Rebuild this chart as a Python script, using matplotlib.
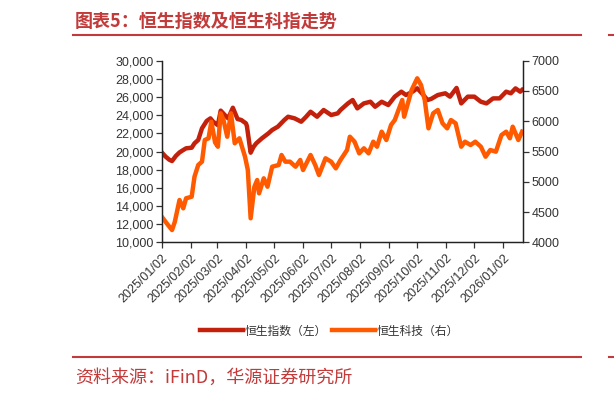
import numpy as np
import pandas as pd
import matplotlib
matplotlib.use('Agg')
import matplotlib.pyplot as plt
import matplotlib.dates as mdates
from matplotlib.lines import Line2D
from matplotlib.ticker import FuncFormatter

plt.rcParams['font.family'] = ['Liberation Sans', 'Noto Sans CJK SC', 'DejaVu Sans']

# 恒生指数 (left axis)
hsi_dates = ['2025-01-02', '2025-01-06', '2025-01-10', '2025-01-13', '2025-01-17', '2025-01-21',
             '2025-01-24', '2025-01-28', '2025-02-03', '2025-02-06', '2025-02-10', '2025-02-14',
             '2025-02-19', '2025-02-23', '2025-02-26', '2025-03-03', '2025-03-06', '2025-03-11',
             '2025-03-14', '2025-03-19', '2025-03-24', '2025-03-28', '2025-04-02', '2025-04-03',
             '2025-04-07', '2025-04-10', '2025-04-13', '2025-04-19', '2025-04-26', '2025-04-30',
             '2025-05-06', '2025-05-13', '2025-05-17', '2025-05-24', '2025-05-31', '2025-06-05',
             '2025-06-10', '2025-06-17', '2025-06-24', '2025-07-02', '2025-07-09', '2025-07-12',
             '2025-07-20', '2025-07-25', '2025-07-30', '2025-08-06', '2025-08-13', '2025-08-18',
             '2025-08-25', '2025-09-01', '2025-09-08', '2025-09-15', '2025-09-20', '2025-09-27',
             '2025-10-02', '2025-10-07', '2025-10-13', '2025-10-17', '2025-10-24', '2025-11-01',
             '2025-11-06', '2025-11-13', '2025-11-18', '2025-11-25', '2025-12-02', '2025-12-09',
             '2025-12-15', '2025-12-22', '2025-12-29', '2026-01-05', '2026-01-10', '2026-01-15',
             '2026-01-20', '2026-01-22']
hsi_vals = [19900, 19450, 19100, 18950, 19500, 19900,
            20100, 20350, 20420, 20900, 21270, 22550,
            23360, 23650, 23280, 22900, 24500, 23950,
            23650, 24820, 23580, 23470, 23100, 22800,
            19870, 20500, 20900, 21450, 22000, 22370,
            22730, 23470, 23830, 23650, 23280, 23800,
            24380, 23830, 24570, 24020, 24200, 24570,
            25300, 25670, 24750, 25300, 25480, 24930,
            25480, 25120, 26040, 26590, 26220, 26590,
            26960, 26410, 25670, 25800, 26220, 26410,
            26040, 27000, 25300, 26040, 26040, 25480,
            25300, 25850, 25850, 26590, 26410, 26950,
            26590, 26780]

# 恒生科技 (right axis)
hstech_dates = ['2025-01-02', '2025-01-08', '2025-01-13', '2025-01-16', '2025-01-21', '2025-01-25',
                '2025-01-28', '2025-02-03', '2025-02-06', '2025-02-10', '2025-02-14', '2025-02-17',
                '2025-02-21', '2025-02-24', '2025-02-28', '2025-03-03', '2025-03-06', '2025-03-09',
                '2025-03-13', '2025-03-17', '2025-03-21', '2025-03-26', '2025-04-01', '2025-04-04',
                '2025-04-07', '2025-04-11', '2025-04-14', '2025-04-16', '2025-04-21', '2025-04-25',
                '2025-04-30', '2025-05-07', '2025-05-10', '2025-05-14', '2025-05-19', '2025-05-25',
                '2025-05-30', '2025-06-02', '2025-06-10', '2025-06-15', '2025-06-19', '2025-06-26',
                '2025-07-02', '2025-07-07', '2025-07-12', '2025-07-19', '2025-07-22', '2025-07-27',
                '2025-08-01', '2025-08-06', '2025-08-11', '2025-08-16', '2025-08-20', '2025-08-25',
                '2025-08-30', '2025-09-04', '2025-09-08', '2025-09-12', '2025-09-16', '2025-09-18',
                '2025-09-22', '2025-09-26', '2025-10-02', '2025-10-06', '2025-10-10', '2025-10-14',
                '2025-10-19', '2025-10-24', '2025-10-29', '2025-11-03', '2025-11-07', '2025-11-12',
                '2025-11-18', '2025-11-22', '2025-11-28', '2025-12-03', '2025-12-09', '2025-12-14',
                '2025-12-19', '2025-12-25', '2025-12-31', '2026-01-05', '2026-01-09', '2026-01-12',
                '2026-01-18', '2026-01-22']
hstech_vals = [4423, 4300, 4203, 4340, 4699, 4561,
               4727, 4753, 5084, 5277, 5332, 5690,
               5718, 5992, 5650, 5579, 6131, 6020,
               5744, 6131, 5636, 5718, 5414, 5194,
               4397, 4918, 5029, 4809, 5057, 4918,
               5249, 5277, 5442, 5332, 5332, 5249,
               5360, 5194, 5442, 5277, 5112, 5388,
               5332, 5222, 5360, 5525, 5744, 5662,
               5470, 5553, 5470, 5662, 5579, 5827,
               5690, 5938, 6020, 6186, 6351, 6075,
               6296, 6516, 6709, 6600, 6351, 5883,
               6131, 6186, 5966, 5883, 6020, 5966,
               5579, 5662, 5607, 5662, 5579, 5414,
               5525, 5497, 5772, 5827, 5718, 5910,
               5690, 5827]

tick_dates = pd.date_range('2025-01-01', '2026-01-01', freq='MS') + pd.Timedelta(days=1)

c_hsi = '#C4210C'
c_tech = '#FF5A00'
c_red = '#C23A3A'
c_txt = '#333333'

fig = plt.figure(figsize=(6.14, 3.96), dpi=100)
ax = fig.add_axes([0.2634, 0.3881, 0.5884, 0.4586])
ax2 = ax.twinx()

ax.plot(pd.to_datetime(hsi_dates), hsi_vals, color=c_hsi, lw=3.2)
ax2.plot(pd.to_datetime(hstech_dates), hstech_vals, color=c_tech, lw=3.2)

ax.set_xlim(pd.Timestamp('2025-01-02'), pd.Timestamp('2026-01-23'))
ax.set_ylim(10000, 30000)
ax2.set_ylim(4000, 7000)
ax.set_yticks(np.arange(10000, 30001, 2000))
ax2.set_yticks(np.arange(4000, 7001, 500))
ax.yaxis.set_major_formatter(FuncFormatter(lambda v, p: f'{int(v):,}'))
ax.set_xticks(tick_dates)
ax.xaxis.set_major_formatter(mdates.DateFormatter('%Y/%m/%d'))
plt.setp(ax.get_xticklabels(), rotation=45, ha='right', rotation_mode='anchor')

for a in (ax, ax2):
    a.spines['top'].set_visible(False)
    for s in a.spines.values():
        s.set_color('#222222')
        s.set_linewidth(0.9)
    a.tick_params(labelsize=9, colors=c_txt, length=4, width=0.9)
ax.tick_params(axis='y', pad=2)
ax2.tick_params(axis='y', pad=2)
ax.tick_params(axis='x', pad=3)

handles = [Line2D([], [], color=c_hsi, lw=3.2), Line2D([], [], color=c_tech, lw=3.2)]
fig.legend(handles, ['恒生指数（左）', '恒生科技（右）'], loc='center', bbox_to_anchor=(0.537, 0.164),
           ncol=2, frameon=False, handlelength=3.6, handletextpad=0.2, columnspacing=0.4,
           prop={'family': ['Noto Sans CJK SC', 'DejaVu Sans'], 'size': 8.5}, labelcolor=c_txt)

fig.text(0.122, 0.947, '图表5：恒生指数及恒生科指走势', color=c_red, fontsize=13, fontweight='bold',
         family=['Noto Sans CJK SC', 'DejaVu Sans'], va='center')
fig.add_artist(Line2D([73 / 614, 581 / 614], [1 - 34.7 / 396] * 2, color=c_red, lw=1.5))
fig.add_artist(Line2D([609 / 614, 1], [1 - 34.7 / 396] * 2, color=c_red, lw=1.5))
fig.add_artist(Line2D([73 / 614, 581 / 614], [1 - 357 / 396] * 2, color=c_red, lw=1.5))
fig.add_artist(Line2D([609 / 614, 1], [1 - 357 / 396] * 2, color=c_red, lw=1.5))
fig.text(0.122, 1 - 378 / 396, '资料来源：iFinD，华源证券研究所', color=c_red, fontsize=13,
         family=['Noto Sans CJK SC', 'DejaVu Sans'], fontweight='light', va='center')

fig.savefig('out.png', dpi=100)
